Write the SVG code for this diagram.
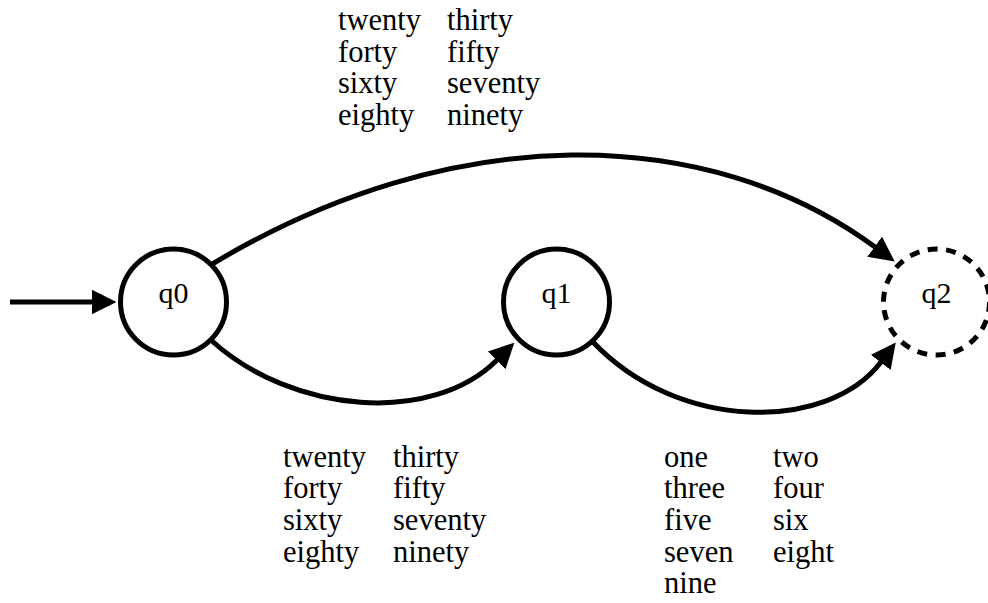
<svg xmlns="http://www.w3.org/2000/svg" width="988" height="603" viewBox="0 0 988 603">
  <style>
    .state { fill: #ffffff; stroke: #000000; stroke-width: 5; }
    .final { stroke-dasharray: 10 8.5; }
    .edge { fill: none; stroke: #000000; stroke-width: 5; }
    .lbl { font-family: 'Liberation Serif', 'Times New Roman', serif; font-size: 30.5px; fill: #000000; }
    .name { text-anchor: middle; font-size: 30px; }
  </style>
  <defs>
    <!-- arrowhead: path ends at the head's base, the head extends 25px beyond -->
    <marker id="arrow" viewBox="0 0 25 25" refX="0.5" refY="12.5" markerWidth="25" markerHeight="25" orient="auto" markerUnits="userSpaceOnUse">
      <path d="M0,0 L25,12.5 L0,25 z" fill="#000000"/>
    </marker>
  </defs>

  <g id="edges">
    <path class="edge" d="M10,302 L92,302" marker-end="url(#arrow)"/>
    <path class="edge" d="M211.5,264.5 C453,119 708,124 875,247" marker-end="url(#arrow)"/>
    <path class="edge" d="M212,341 C293,414 432,425 497,360" marker-end="url(#arrow)"/>
    <path class="edge" d="M593,342 C678,432 828,432 881,362" marker-end="url(#arrow)"/>
  </g>

  <g id="q0">
    <circle class="state" cx="173.5" cy="302" r="53"/>
    <text class="lbl name" x="173.5" y="303">q0</text>
  </g>
  <g id="q1">
    <circle class="state" cx="556.5" cy="302" r="53"/>
    <text class="lbl name" x="556.5" y="303">q1</text>
  </g>
  <g id="q2">
    <circle class="state final" cx="936.5" cy="302" r="53"/>
    <text class="lbl name" x="936.5" y="303">q2</text>
  </g>

  <g id="label-q0-q2" class="lbl">
    <text x="338" y="30">twenty</text><text x="447" y="30">thirty</text>
    <text x="338" y="62">forty</text><text x="447" y="62">fifty</text>
    <text x="338" y="93">sixty</text><text x="447" y="93">seventy</text>
    <text x="338" y="125">eighty</text><text x="447" y="125">ninety</text>
  </g>
  <g id="label-q0-q1" class="lbl">
    <text x="283" y="467">twenty</text><text x="393" y="467">thirty</text>
    <text x="283" y="498">forty</text><text x="393" y="498">fifty</text>
    <text x="283" y="530">sixty</text><text x="393" y="530">seventy</text>
    <text x="283" y="562">eighty</text><text x="393" y="562">ninety</text>
  </g>
  <g id="label-q1-q2" class="lbl">
    <text x="664" y="467">one</text><text x="773" y="467">two</text>
    <text x="664" y="498">three</text><text x="773" y="498">four</text>
    <text x="664" y="530">five</text><text x="773" y="530">six</text>
    <text x="664" y="562">seven</text><text x="773" y="562">eight</text>
    <text x="664" y="593">nine</text>
  </g>
</svg>
